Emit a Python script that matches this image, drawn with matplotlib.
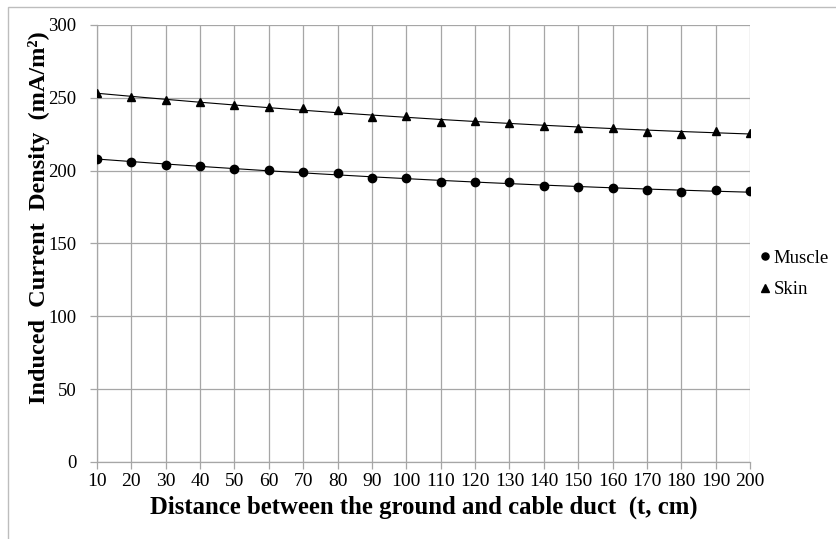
import numpy as np
import matplotlib
matplotlib.use('Agg')
import matplotlib.pyplot as plt
from matplotlib.patches import Rectangle

# Distances (t, cm) and induced current density (mA/m^2)
distance = [10, 20, 30, 40, 50, 60, 70, 80, 90, 100,
            110, 120, 130, 140, 150, 160, 170, 180, 190, 200]
muscle = [208, 206, 204, 203, 201, 200.5, 199, 198.5, 195, 195,
          192.5, 192.5, 192, 189.5, 188.5, 188, 186.5, 185.5, 187, 186]
skin = [253, 250.5, 248.5, 247, 245, 243.7, 242.7, 241.5, 237, 237.3,
        233.5, 234.3, 233, 230.8, 229.2, 229, 226.8, 225.5, 227.2, 226.2]

plt.rcParams['font.family'] = ['Liberation Serif', 'DejaVu Serif']

fig = plt.figure(figsize=(8.36, 5.39), dpi=100)
ax = fig.add_axes([97 / 836, 1 - 462 / 539, 653 / 836, 437 / 539])

# outer chart border (light gray, top and left visible)
fig.patches.append(Rectangle((8 / 836, -0.05), 1.2, 1 - 7 / 539 + 0.05,
                             transform=fig.transFigure, fill=False,
                             edgecolor='#bdbdbd', linewidth=1.0))

x = np.array(distance, dtype=float)
xs = np.linspace(x[0], x[-1], 200)

# polynomial trendlines
for vals in (muscle, skin):
    coef = np.polyfit(x, vals, 2)
    ax.plot(xs, np.polyval(coef, xs), color='black', linewidth=0.8, zorder=3)

ax.plot(x, muscle, linestyle='none', marker='o', markersize=6,
        color='black', label='Muscle', zorder=4)
ax.plot(x, skin, linestyle='none', marker='^', markersize=6,
        color='black', label='Skin', zorder=4)

ax.set_xlim(10, 200)
ax.set_ylim(0, 300)
ax.set_xticks(distance)
ax.set_xticklabels([str(d) for d in distance])
ax.set_yticks(np.arange(0, 301, 50))

ax.grid(True, color='#a6a6a6', linewidth=0.9)
ax.set_axisbelow(True)
for side in ('top', 'right'):
    ax.spines[side].set_visible(False)
for side in ('left', 'bottom'):
    ax.spines[side].set_color('#a6a6a6')
    ax.spines[side].set_linewidth(0.9)
ax.tick_params(axis='both', colors='#a6a6a6', labelcolor='black',
               length=5, width=0.9)
ax.tick_params(axis='x', labelsize=14, pad=3)
ax.tick_params(axis='y', labelsize=13.5, pad=10)

ax.set_xlabel('Distance between the ground and cable duct  (t, cm)',
              fontsize=17.8, fontweight='bold', labelpad=4)
ax.set_ylabel('Induced  Current  Density  (mA/m\u00b2)',
              fontsize=17.5, fontweight='bold')
ax.yaxis.set_label_coords(-0.072, 0.56)

leg = ax.legend(loc='center left', bbox_to_anchor=(1.0, 0.43), frameon=False,
                fontsize=13.5, handlelength=0.6, handletextpad=0.15,
                borderaxespad=0.1, labelspacing=0.75, markerscale=0.85)

fig.savefig('out.png', dpi=100)
